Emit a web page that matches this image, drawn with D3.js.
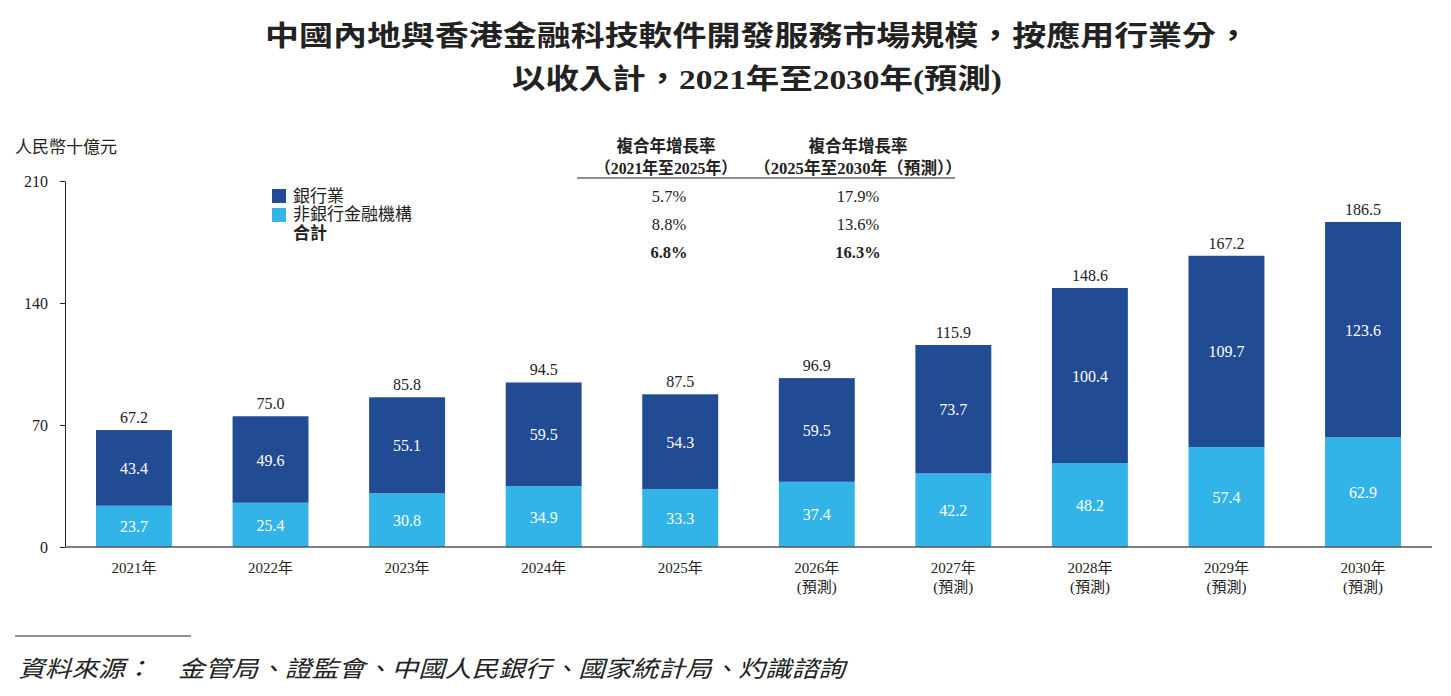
<!DOCTYPE html>
<html>
<head>
  <meta charset="utf-8">
  <script src="https://cdn.jsdelivr.net/npm/d3@7"></script>
  <style>
    body { margin: 0; background: #fff; }
    text { font-family: "Liberation Serif", "Noto Sans CJK TC", serif; fill: #222; }
  </style>
</head>
<body>
  <svg width="1451" height="696" id="mainsvg"></svg>
  <script>
    const years = ['2021', '2022', '2023', '2024', '2025', '2026', '2027', '2028', '2029', '2030'];
    const forecast = [false, false, false, false, false, true, true, true, true, true];
    const nonBank = [23.7, 25.4, 30.8, 34.9, 33.3, 37.4, 42.2, 48.2, 57.4, 62.9];
    const bank = [43.4, 49.6, 55.1, 59.5, 54.3, 59.5, 73.7, 100.4, 109.7, 123.6];
    const totals = [67.2, 75.0, 85.8, 94.5, 87.5, 96.9, 115.9, 148.6, 167.2, 186.5];
    const yTicks = [0, 70, 140, 210];
    const legendNames = ['銀行業', '非銀行金融機構', '合計'];
    const cagrHead1 = ['複合年增長率', '（2021年至2025年）'];
    const cagrHead2 = ['複合年增長率', '（2025年至2030年（預測））'];
    const cagr1 = ['5.7%', '8.8%', '6.8%'];
    const cagr2 = ['17.9%', '13.6%', '16.3%'];

    const colBank = '#214b92';
    const colNonBank = '#33b4e8';

    const svg = d3.select('svg');

    // title
    svg.append('text').attr('x', 265).attr('y', 46)
      .attr('textLength', 985).attr('lengthAdjust', 'spacingAndGlyphs')
      .style('font-size', '28px').style('font-weight', 'bold')
      .text('中國內地與香港金融科技軟件開發服務市場規模，按應用行業分，');
    svg.append('text').attr('x', 512).attr('y', 89)
      .attr('textLength', 490).attr('lengthAdjust', 'spacingAndGlyphs')
      .style('font-size', '28px').style('font-weight', 'bold')
      .text('以收入計，2021年至2030年(預測)');

    // scales
    const x = d3.scaleBand().domain(years).range([65, 1432])
      .paddingInner(0.444).paddingOuter(0.227);
    const y = d3.scaleLinear().domain([0, 210]).range([547, 181]);

    // y axis label
    svg.append('text').attr('x', 15).attr('y', 153)
      .style('font-size', '17px').text('人民幣十億元');

    // bars
    const g = svg.append('g');
    years.forEach((yr, i) => {
      const x0 = x(yr);
      g.append('rect').attr('x', x0).attr('width', x.bandwidth())
        .attr('y', y(nonBank[i])).attr('height', y(0) - y(nonBank[i]))
        .attr('fill', colNonBank);
      g.append('rect').attr('x', x0).attr('width', x.bandwidth())
        .attr('y', y(nonBank[i] + bank[i])).attr('height', y(nonBank[i]) - y(nonBank[i] + bank[i]))
        .attr('fill', colBank);
      const cx = x0 + x.bandwidth() / 2;
      g.append('text').attr('x', cx).attr('y', y(nonBank[i] / 2) + 6)
        .attr('text-anchor', 'middle').style('font-size', '16px').style('fill', '#fff')
        .text(nonBank[i].toFixed(1));
      g.append('text').attr('x', cx).attr('y', y(nonBank[i] + bank[i] / 2) + 6)
        .attr('text-anchor', 'middle').style('font-size', '16px').style('fill', '#fff')
        .text(bank[i].toFixed(1));
      g.append('text').attr('x', cx).attr('y', y(nonBank[i] + bank[i]) - 7)
        .attr('text-anchor', 'middle').style('font-size', '16px')
        .text(totals[i].toFixed(1));
      g.append('text').attr('x', cx).attr('y', 573)
        .attr('text-anchor', 'middle').style('font-size', '15px')
        .text(yr + '年');
      if (forecast[i]) {
        g.append('text').attr('x', cx).attr('y', 592)
          .attr('text-anchor', 'middle').style('font-size', '15px')
          .text('(預測)');
      }
    });

    // axes
    const yAxis = svg.append('g').attr('transform', 'translate(65,0)')
      .call(d3.axisLeft(y).tickValues(yTicks).tickSize(5).tickSizeOuter(0).tickPadding(12));
    yAxis.select('.domain').attr('stroke', '#222');
    yAxis.selectAll('.tick line').attr('stroke', '#222');
    yAxis.selectAll('.tick text').style('font-size', '16px')
      .style('font-family', '"Liberation Serif", serif').attr('fill', '#222');

    svg.append('line').attr('x1', 65).attr('x2', 1432).attr('y1', y(0)).attr('y2', y(0))
      .attr('stroke', '#555').attr('stroke-width', 1.5);

    // legend
    const lg = svg.append('g');
    lg.append('rect').attr('x', 272).attr('y', 189).attr('width', 14).attr('height', 14).attr('fill', colBank);
    lg.append('rect').attr('x', 272).attr('y', 208).attr('width', 14).attr('height', 14).attr('fill', colNonBank);
    lg.append('text').attr('x', 293).attr('y', 202).style('font-size', '17px').text(legendNames[0]);
    lg.append('text').attr('x', 293).attr('y', 220).style('font-size', '17px').text(legendNames[1]);
    lg.append('text').attr('x', 293).attr('y', 239).style('font-size', '17px').style('font-weight', 'bold').text(legendNames[2]);

    // CAGR table
    const tg = svg.append('g');
    const colX = [666, 858];
    const headW = [142, 208];
    [cagrHead1, cagrHead2].forEach((h, c) => {
      h.forEach((t, r) => {
        const el = tg.append('text').attr('x', colX[c] - (r === 1 ? headW[c] / 2 : 0)).attr('y', 152 + r * 22)
          .attr('text-anchor', r === 1 ? 'start' : 'middle')
          .style('font-size', '16.5px').style('font-weight', 'bold')
          .text(t);
        if (r === 1) el.attr('textLength', headW[c]).attr('lengthAdjust', 'spacingAndGlyphs');
      });
    });
    tg.append('line').attr('x1', 577).attr('x2', 955).attr('y1', 178).attr('y2', 178)
      .attr('stroke', '#222').attr('stroke-width', 1.2);
    [cagr1, cagr2].forEach((col, c) => {
      col.forEach((t, r) => {
        tg.append('text').attr('x', colX[c] + (c === 0 ? 3 : 0)).attr('y', 202 + r * 28)
          .attr('text-anchor', 'middle').style('font-size', '16.5px')
          .style('font-weight', r === 2 ? 'bold' : 'normal')
          .text(t);
      });
    });

    // source
    svg.append('line').attr('x1', 15).attr('x2', 191).attr('y1', 636).attr('y2', 636)
      .attr('stroke', '#222').attr('stroke-width', 1.2);
    svg.append('text').attr('x', 18).attr('y', 677)
      .attr('textLength', 827).attr('lengthAdjust', 'spacingAndGlyphs')
      .style('font-size', '23px').style('font-style', 'italic')
      .text('資料來源：　金管局、證監會、中國人民銀行、國家統計局、灼識諮詢');
  </script>
</body>
</html>
